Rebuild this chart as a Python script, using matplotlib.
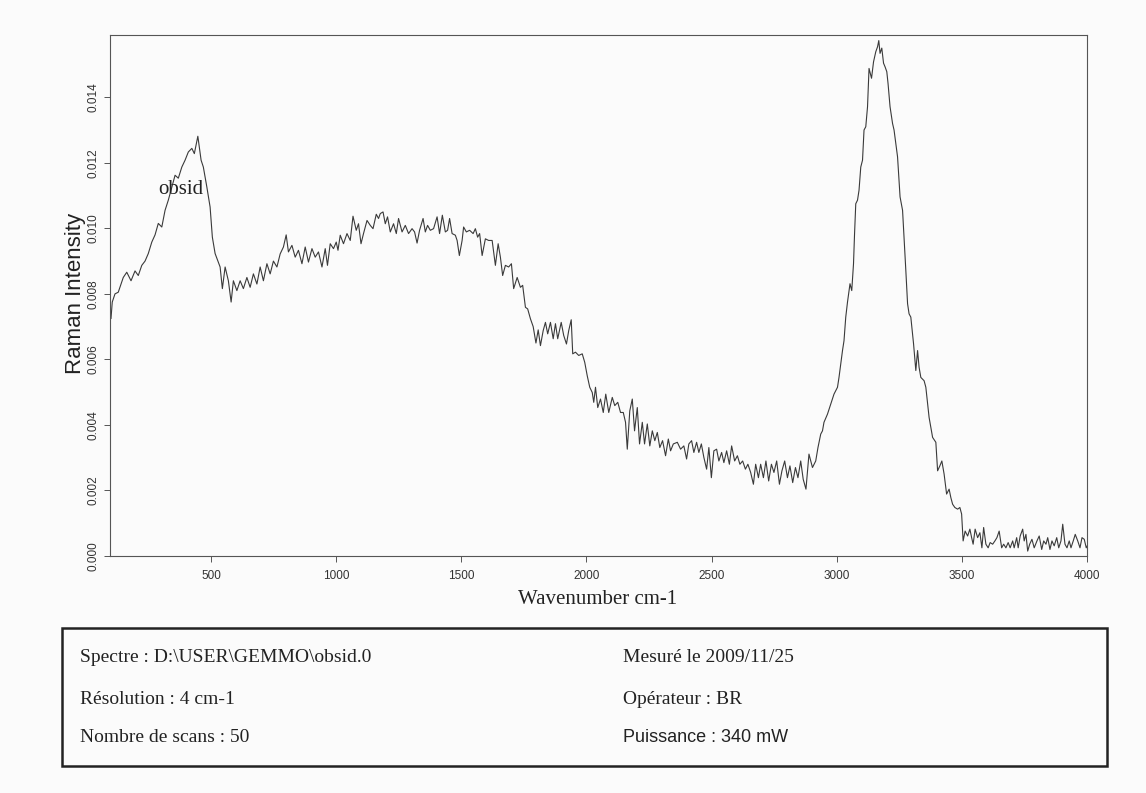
import matplotlib
matplotlib.use("Agg")
import matplotlib.pyplot as plt
from matplotlib.patches import Rectangle

wavenumber = [
    100, 105, 116, 129, 149, 163, 180, 196, 209, 223, 236, 249, 263, 276, 289, 303, 316, 329, 343, 356,
    369, 383, 396, 409, 423, 433, 447, 460, 469, 483, 496, 505, 516, 527, 536, 545, 556, 569, 580, 589,
    603, 616, 629, 643, 656, 669, 683, 696, 709, 723, 736, 749, 763, 776, 789, 800, 809, 823, 836, 849,
    863, 876, 889, 903, 916, 929, 943, 956, 965, 976, 989, 1000, 1007, 1016, 1029, 1043, 1056, 1067, 1080, 1089,
    1099, 1109, 1123, 1136, 1147, 1160, 1169, 1176, 1187, 1196, 1205, 1216, 1229, 1240, 1249, 1263, 1276, 1289, 1303, 1313,
    1323, 1333, 1347, 1356, 1365, 1376, 1389, 1403, 1413, 1424, 1436, 1445, 1453, 1463, 1476, 1483, 1492, 1503, 1509, 1520,
    1533, 1547, 1556, 1565, 1573, 1583, 1596, 1609, 1623, 1636, 1647, 1656, 1665, 1676, 1689, 1700, 1709, 1723, 1736, 1745,
    1756, 1765, 1776, 1787, 1798, 1807, 1816, 1827, 1836, 1845, 1856, 1867, 1876, 1885, 1899, 1909, 1920, 1929, 1939, 1945,
    1956, 1969, 1983, 1993, 2003, 2013, 2023, 2029, 2036, 2045, 2056, 2067, 2077, 2089, 2103, 2113, 2125, 2136, 2147, 2156,
    2163, 2173, 2183, 2192, 2203, 2212, 2223, 2232, 2243, 2253, 2263, 2273, 2283, 2293, 2304, 2316, 2327, 2336, 2347, 2363,
    2376, 2389, 2400, 2409, 2420, 2429, 2440, 2449, 2459, 2469, 2480, 2489, 2499, 2509, 2520, 2529, 2540, 2549, 2560, 2571,
    2580, 2592, 2603, 2613, 2624, 2635, 2645, 2656, 2667, 2676, 2687, 2696, 2707, 2717, 2728, 2739, 2749, 2760, 2771, 2781,
    2792, 2803, 2813, 2824, 2835, 2845, 2856, 2866, 2877, 2889, 2903, 2916, 2925, 2936, 2943, 2949, 2963, 2976, 2989, 3003,
    3009, 3016, 3023, 3029, 3036, 3043, 3053, 3060, 3067, 3071, 3076, 3083, 3089, 3096, 3103, 3109, 3116, 3123, 3129, 3139,
    3147, 3156, 3163, 3168, 3173, 3180, 3187, 3193, 3200, 3205, 3213, 3223, 3229, 3243, 3253, 3263, 3269, 3276, 3283, 3289,
    3296, 3307, 3316, 3323, 3329, 3336, 3349, 3356, 3363, 3369, 3376, 3383, 3396, 3403, 3412, 3420, 3429, 3439, 3449, 3456,
    3463, 3472, 3483, 3492, 3499, 3505, 3513, 3523, 3532, 3539, 3545, 3553, 3563, 3572, 3580, 3587, 3596, 3605, 3613, 3623,
    3632, 3640, 3649, 3659, 3667, 3676, 3685, 3693, 3703, 3709, 3719, 3725, 3733, 3743, 3749, 3756, 3763, 3771, 3780, 3789,
    3800, 3809, 3819, 3827, 3836, 3843, 3852, 3860, 3869, 3879, 3887, 3896, 3903, 3912, 3920, 3929, 3936, 3945, 3953, 3963,
    3972, 3980, 3989, 3997, 4000,
]

intensity = [
    0.00725, 0.00775, 0.00800, 0.00805, 0.00850, 0.00866, 0.00840, 0.00870, 0.00856, 0.00887,
    0.00900, 0.00923, 0.00958, 0.00980, 0.01015, 0.01004, 0.01055, 0.01086, 0.01126, 0.01162,
    0.01153, 0.01187, 0.01208, 0.01233, 0.01244, 0.01228, 0.01281, 0.01208, 0.01187, 0.01126,
    0.01065, 0.00973, 0.00923, 0.00900, 0.00882, 0.00816, 0.00882, 0.00840, 0.00775, 0.00840,
    0.00810, 0.00840, 0.00816, 0.00850, 0.00820, 0.00861, 0.00830, 0.00882, 0.00840, 0.00892,
    0.00861, 0.00900, 0.00882, 0.00922, 0.00943, 0.00980, 0.00928, 0.00948, 0.00912, 0.00933,
    0.00892, 0.00943, 0.00897, 0.00938, 0.00912, 0.00928, 0.00882, 0.00938, 0.00887, 0.00953,
    0.00938, 0.00958, 0.00933, 0.00979, 0.00953, 0.00984, 0.00963, 0.01037, 0.00994, 0.01014,
    0.00953, 0.00984, 0.01024, 0.01009, 0.00999, 0.01043, 0.01030, 0.01045, 0.01050, 0.01014,
    0.01035, 0.00989, 0.01014, 0.00984, 0.01030, 0.00989, 0.01009, 0.00984, 0.00999, 0.00989,
    0.00955, 0.00994, 0.01030, 0.00989, 0.01009, 0.00994, 0.00999, 0.01035, 0.00984, 0.01040,
    0.00989, 0.00994, 0.01030, 0.00984, 0.00979, 0.00963, 0.00917, 0.00963, 0.01004, 0.00989,
    0.00994, 0.00984, 0.00999, 0.00973, 0.00984, 0.00917, 0.00968, 0.00963, 0.00963, 0.00887,
    0.00953, 0.00912, 0.00856, 0.00887, 0.00882, 0.00892, 0.00816, 0.00850, 0.00820, 0.00826,
    0.00759, 0.00754, 0.00724, 0.00700, 0.00650, 0.00690, 0.00642, 0.00688, 0.00713, 0.00678,
    0.00713, 0.00663, 0.00709, 0.00663, 0.00713, 0.00673, 0.00647, 0.00688, 0.00721, 0.00617,
    0.00622, 0.00612, 0.00617, 0.00591, 0.00550, 0.00515, 0.00499, 0.00469, 0.00515, 0.00453,
    0.00479, 0.00438, 0.00494, 0.00438, 0.00484, 0.00459, 0.00469, 0.00438, 0.00438, 0.00408,
    0.00326, 0.00443, 0.00479, 0.00382, 0.00453, 0.00342, 0.00408, 0.00342, 0.00403, 0.00336,
    0.00382, 0.00352, 0.00377, 0.00331, 0.00352, 0.00306, 0.00357, 0.00321, 0.00342, 0.00347,
    0.00326, 0.00336, 0.00296, 0.00342, 0.00352, 0.00316, 0.00347, 0.00316, 0.00342, 0.00301,
    0.00265, 0.00331, 0.00239, 0.00321, 0.00326, 0.00290, 0.00316, 0.00285, 0.00321, 0.00280,
    0.00336, 0.00290, 0.00306, 0.00280, 0.00290, 0.00265, 0.00280, 0.00255, 0.00219, 0.00280,
    0.00239, 0.00280, 0.00239, 0.00290, 0.00229, 0.00280, 0.00255, 0.00290, 0.00219, 0.00260,
    0.00290, 0.00239, 0.00275, 0.00224, 0.00270, 0.00239, 0.00290, 0.00234, 0.00204, 0.00311,
    0.00270, 0.00290, 0.00331, 0.00372, 0.00382, 0.00408, 0.00433, 0.00464, 0.00494, 0.00515,
    0.00545, 0.00586, 0.00627, 0.00657, 0.00729, 0.00775, 0.00831, 0.00810, 0.00892, 0.00980,
    0.01075, 0.01086, 0.01116, 0.01187, 0.01208, 0.01300, 0.01310, 0.01371, 0.01488, 0.01458,
    0.01508, 0.01539, 0.01554, 0.01573, 0.01534, 0.01550, 0.01504, 0.01493, 0.01478, 0.01442,
    0.01371, 0.01320, 0.01300, 0.01218, 0.01096, 0.01055, 0.00973, 0.00872, 0.00770, 0.00739,
    0.00729, 0.00647, 0.00566, 0.00627, 0.00576, 0.00545, 0.00535, 0.00515, 0.00464, 0.00423,
    0.00392, 0.00362, 0.00347, 0.00260, 0.00275, 0.00290, 0.00250, 0.00189, 0.00204, 0.00178,
    0.00158, 0.00148, 0.00143, 0.00148, 0.00128, 0.00046, 0.00076, 0.00061, 0.00082, 0.00056,
    0.00036, 0.00082, 0.00056, 0.00071, 0.00025, 0.00087, 0.00036, 0.00025, 0.00041, 0.00036,
    0.00046, 0.00056, 0.00076, 0.00025, 0.00036, 0.00025, 0.00041, 0.00025, 0.00046, 0.00025,
    0.00056, 0.00025, 0.00061, 0.00082, 0.00046, 0.00066, 0.00015, 0.00036, 0.00051, 0.00025,
    0.00046, 0.00061, 0.00020, 0.00046, 0.00036, 0.00056, 0.00020, 0.00046, 0.00031, 0.00056,
    0.00025, 0.00046, 0.00097, 0.00036, 0.00025, 0.00046, 0.00025, 0.00046, 0.00066, 0.00046,
    0.00025, 0.00056, 0.00051, 0.00025, 0.00030,
]

x_ticks = [500, 1000, 1500, 2000, 2500, 3000, 3500, 4000]
y_ticks = [0.000, 0.002, 0.004, 0.006, 0.008, 0.010, 0.012, 0.014]
sample_label = "obsid"
x_title = "Wavenumber cm-1"
y_title = "Raman Intensity"
info_left = ["Spectre : D:\\USER\\GEMMO\\obsid.0", "Résolution : 4 cm-1", "Nombre de scans : 50"]
info_right = ["Mesuré le 2009/11/25", "Opérateur : BR", "Puissance : 340 mW"]

W, H = 1146, 793
fig = plt.figure(figsize=(W / 100, H / 100), dpi=100)
fig.patch.set_facecolor("#fbfbfb")

def fx(px):
    return px / W

def fy(py):
    return 1 - py / H

ax = fig.add_axes([fx(110), fy(556), fx(1087) - fx(110), fy(35) - fy(556)])
ax.set_facecolor("#fbfbfb")
ax.plot(wavenumber, intensity, color="#3a3a3a", linewidth=0.8)
ax.set_xlim(96, 4000)
ax.set_ylim(0, 0.0159)

sans = ["Liberation Sans", "DejaVu Sans"]
serif = ["Liberation Serif", "DejaVu Serif"]

ax.set_xticks(x_ticks)
ax.set_xticklabels([str(t) for t in x_ticks], fontfamily=sans, fontsize=8.5, color="#333333")
ax.set_yticks(y_ticks)
ax.set_yticklabels(["%.3f" % t for t in y_ticks], fontfamily=sans, fontsize=8.5, color="#333333",
                   rotation=90, va="center")
ax.tick_params(axis="both", direction="out", length=4, width=0.7, color="#555555")
ax.tick_params(axis="x", pad=6)
ax.tick_params(axis="y", pad=3.5)
for s in ax.spines.values():
    s.set_color("#555555")
    s.set_linewidth(0.8)

ax.text(380, 0.0112, sample_label, fontfamily=serif, fontsize=15, color="#222222",
        ha="center", va="center")

fig.text(fx(598), fy(600), x_title, fontfamily=serif, fontsize=15, color="#222222",
         ha="center", va="center")
fig.text(fx(75), fy(293), y_title, fontfamily=sans, fontsize=16, color="#222222",
         ha="center", va="center", rotation=90)

box = Rectangle((fx(62), fy(766)), fx(1107) - fx(62), fy(628) - fy(766), transform=fig.transFigure,
                fill=False, edgecolor="#222222", linewidth=1.8)
fig.patches.append(box)

rows_y = [658, 699, 738]
for txt, yy in zip(info_left, rows_y):
    fig.text(fx(80), fy(yy), txt, fontfamily=serif, fontsize=14, color="#222222", ha="left", va="center")
for i, (txt, yy) in enumerate(zip(info_right, rows_y)):
    fam = sans if i == 2 else serif
    fs = 13 if i == 2 else 14
    fig.text(fx(623), fy(yy), txt, fontfamily=fam, fontsize=fs, color="#222222", ha="left", va="center")

fig.savefig("out.png", dpi=100, facecolor=fig.get_facecolor())
